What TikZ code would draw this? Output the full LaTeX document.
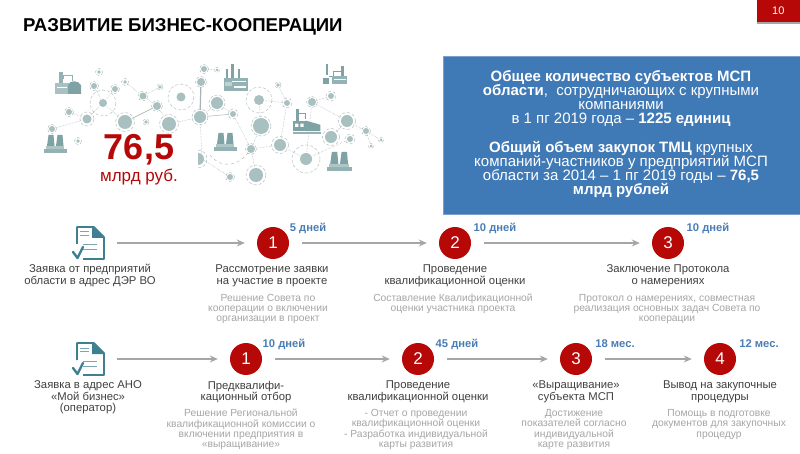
\documentclass[tikz,border=0pt]{standalone}
\usepackage{fontspec}
\setmainfont{Liberation Sans}
\usetikzlibrary{arrows.meta}
\definecolor{redc}{HTML}{B70808}
\definecolor{bluebox}{HTML}{3F79B6}
\definecolor{bluetxt}{HTML}{4A7DB5}
\definecolor{teal}{HTML}{3E8090}
\definecolor{grayt}{HTML}{A6A6A6}
\definecolor{darkt}{HTML}{404040}
\definecolor{netc}{HTML}{A9C0C1}
\definecolor{netl}{HTML}{A8B4B5}
\definecolor{fact}{HTML}{93B2B3}
\definecolor{factd}{HTML}{7FA3A5}
\tikzset{
  numc/.style={circle,fill=redc,text=white,minimum size=32pt,inner sep=0pt,font=\fontsize{17}{17}\selectfont},
  flow/.style={draw=grayt,line width=1.5pt,-{Stealth[length=8pt,width=7pt]},shorten <=13pt,shorten >=12pt},
  lab/.style={align=center,text=darkt,inner sep=0pt,font=\fontsize{11.3}{11.7}\selectfont},
  sub/.style={align=center,text=grayt,inner sep=0pt,font=\fontsize{10.3}{10.3}\selectfont},
  days/.style={text=bluetxt,inner sep=0pt,font=\fontsize{11.2}{12}\bfseries\selectfont},
  blue/.style={align=center,text=white,inner sep=0pt,font=\fontsize{15}{14.3}\selectfont},
  docbox/.style={minimum width=28pt,minimum height=36pt,inner sep=0pt},
  netedge/.style={draw=netl,line width=0.5pt,densely dotted},
}
\newcommand{\docicon}[2]{\begin{scope}[shift={(#1,#2)}]
  \draw[teal,line width=1.6pt,line join=round] (0,18) -- (0,1) -- (17,1) -- (27,11) -- (27,33) -- (6,33);
  \fill[teal] (15,0) -- (28,12) -- (15,12) -- cycle;
  \draw[teal!70,line width=1pt] (3,6) -- (12,6) (3,9.5) -- (12,9.5) (6,19) -- (20,19) (6,24) -- (20,24);
  \draw[teal,line width=2.4pt,line cap=round,line join=round] (-4,26) -- (0.5,32) -- (6,21);
\end{scope}}
\newcommand{\towers}[3]{\begin{scope}[shift={(#1,#2)},scale=#3]
  \fill[factd] (3,11) -- (4.5,0) -- (9.5,0) -- (10.5,11) -- cycle;
  \fill[factd] (12,11) -- (13.5,0) -- (18.5,0) -- (19.5,11) -- cycle;
  \fill[fact!75] (2,11) rectangle (20,14);
  \fill[fact] (0,14) rectangle (23,18);
\end{scope}}
\newcommand{\factoryb}[3]{\begin{scope}[shift={(#1,#2)},scale=#3]
  \fill[factd] (8,0) rectangle (11,14);
  \fill[factd] (3,5) rectangle (5,14);
  \fill[factd] (15,5) rectangle (17,14);
  \fill[fact] (1,14) rectangle (25,27);
  \fill[white] (9,17) rectangle (23,18);
  \fill[fact!60] (2,18) rectangle (9,22);
  \fill[white] (11,22) rectangle (23,24);
\end{scope}}
\newcommand{\factoryc}[3]{\begin{scope}[shift={(#1,#2)},scale=#3]
  \fill[factd] (3,0) rectangle (6,12);
  \draw[factd,line width=0.9pt] (6,4) -- (12,4) -- (12,10);
  \fill[factd] (0,11) rectangle (12,21);
  \fill[factd] (12,11) -- (26,15) -- (26,21) -- (12,21) -- cycle;
  \fill[white] (2,14) rectangle (5,17) (7,14) rectangle (10,17);
  \fill[fact] (0,22) rectangle (27,24);
\end{scope}}
\newcommand{\refinery}[3]{\begin{scope}[shift={(#1,#2)},scale=#3]
  \fill[fact] (4,0) rectangle (8,12);
  \draw[fact,line width=0.9pt] (8,7) -- (8,3) -- (17,3) -- (17,9);
  \fill[fact!80] (0,11) rectangle (14,22);
  \fill[factd] (13,22) -- (13,13) .. controls (15,8) and (23,8) .. (26,13) -- (26,22) -- cycle;
  \fill[white] (2,15) rectangle (12,16.2);
\end{scope}}
\newcommand{\refineryb}[3]{\begin{scope}[shift={(#1,#2)},scale=#3]
  \fill[factd] (3,0) rectangle (5,11);
  \fill[factd] (0,14) rectangle (6,20);
  \draw[factd,line width=0.9pt] (6,12) -- (10,12) -- (10,7) -- (20,7);
  \fill[factd] (18,2) rectangle (21,12);
  \fill[fact] (9,12) rectangle (24,20);
  \fill[white] (11,15) rectangle (23,16);
\end{scope}}
\begin{document}
\begin{tikzpicture}[x=1pt,y=-1pt]
\useasboundingbox (0,0) rectangle (800,454);
\fill[white] (0,0) rectangle (800,454);
% network illustration
\foreach \n/\x/\y in {a/52/129,b/69/112,c/78/141,d/87/119,e/94/86,f/99/72,g/115/89,h/103/103,i/125/82,j/125/122,k/146/122,l/143/96,m/160/87,n/157/106,o/169/124,p/181/97,q/201/82,r/204/69,s/217/70,t/200/117,u/217/103,v/233/114,w/259/100,x/261/126,y/278/85,z/287/103,aa/280/145,ab/251/149,ac/256/175,ad/230/177,ae/202/159,af/306/159,ag/312/102,ah/331/96,ai/347/121,aj/331/137,ak/350/139,al/366/131,am/381/140,an/371/146}{
  \coordinate (\n) at (\x,\y);
}
\foreach \p/\q in {a/d,b/d,d/h,e/h,g/h,h/j,j/n,l/n,l/i,l/m,n/o,t/u,u/v,v/ab,ab/x,x/w,w/z,z/y,z/aa,aa/ab,aa/af,af/ak,ag/ah,ag/ai,ai/al,al/am,al/an,ai/aj,ab/ac,ad/ae,ae/t,ag/af,r/s,o/t}{
  \draw[netedge] (\p) -- (\q);
}
\draw[netl,line width=0.4pt,dashed] (210,155) .. controls (222,170) and (240,166) .. (251,149);
\draw[netl,line width=1.2pt] (q) -- (t);
\draw[netl,line width=0.5pt] (t) -- (v) (n) -- (j);
\foreach \n/\r/\q in {a/3/4.5,b/3/4.5,c/1.8/3.5,d/4.5/7,e/3/4.5,f/1.8/3.5,g/3/4.5,h/4/13,i/1.8/3.5,j/7/9.5,k/1.8/3,l/3.5/5,m/1.8/3,n/4/5.5,o/7/9.5,p/4.5/13,q/4/5.5,r/3/4.5,s/1.5/2.5,t/6/8,u/6/8,v/3/5,w/5/13,x/8/10,y/1.8/3,z/3/5,aa/6/8.5,ab/4/5.5,ac/7/10,ad/3/4.5,af/6/14,ag/4/5.5,ah/3/5,ai/6/8.5,aj/6/8.5,ak/3/5,al/3/4.5,am/1.5/2.5,an/1.5/2.5}{
  \fill[white] (\n) circle (\r+1);
  \fill[netc] (\n) circle (\r);
  \draw[netl,line width=0.4pt,densely dashed] (\n) circle (\q);
}
\fill[netc] (198,153) arc (-90:90:6) -- cycle;
\draw[netl,line width=0.4pt,densely dashed] (198,150) arc (-90:90:9);
\refinery{55}{72}{1}
\factoryb{223}{64}{1}
\refineryb{323}{64}{1}
\factoryc{293}{109}{1.05}
\towers{44}{135}{1}
\towers{214}{133}{1}
\towers{327}{152}{1.08}
% title and tag
\node[anchor=west,inner sep=0pt,font=\fontsize{18.6}{20}\bfseries\selectfont,text=black] (title) at (23,27) {РАЗВИТИЕ БИЗНЕС-КООПЕРАЦИИ};
\fill[black!35] (757,2) rectangle (800,24);
\node[fill=redc,text=white,anchor=north east,minimum width=43pt,minimum height=22pt,inner sep=0pt,font=\fontsize{11}{12}\selectfont] (tag) at (800,0) {10};
\node[inner sep=0pt,text=redc,font=\fontsize{36}{40}\bfseries\selectfont] (amount) at (139,150) {76,5};
\node[inner sep=0pt,text=redc,font=\fontsize{17}{18}\selectfont] (amountu) at (139,177) {млрд руб.};
% blue box
\node[fill=bluebox,draw=bluebox!70!white,line width=0.5pt,anchor=north west,minimum width=358pt,minimum height=158pt,inner sep=0pt] (box) at (443,56) {};
\node[blue] (bluea) at (621,98.5) {\textbf{Общее количество субъектов МСП}\\\textbf{области},\ \ сотрудничающих с крупными\\компаниями\\в 1 пг 2019 года – \textbf{1225 единиц}};
\node[blue] (blueb) at (621,169.5) {\textbf{Общий объем закупок ТМЦ} крупных\\компаний-участников у предприятий МСП\\области за 2014 – 1 пг 2019 годы – \textbf{76,5}\\\textbf{млрд рублей}};
% row 1
\docicon{77}{226}
\node[docbox] (doca) at (90,243) {};
\node[numc] (r1) at (273,243) {1};
\node[numc] (r2) at (455,243) {2};
\node[numc] (r3) at (668,243) {3};
\draw[flow] (doca) -- (r1);
\draw[flow] (r1) -- (r2);
\draw[flow] (r2) -- (r3);
\node[days] (d1) at (308,228) {5 дней};
\node[days] (d2) at (495,228) {10 дней};
\node[days] (d3) at (708,228) {10 дней};
\node[lab] (la0) at (90,275.8) {Заявка от предприятий\\области в адрес ДЭР ВО};
\node[lab] (la1) at (272,275.8) {Рассмотрение заявки\\на участие в проекте};
\node[lab] (la2) at (455,275.8) {Проведение\\квалификационной оценки};
\node[lab] (la3) at (668,275.8) {Заключение Протокола\\о намерениях};
\node[sub] (sa1) at (268,309) {Решение Совета по\\кооперации о включении\\организации в проект};
\node[sub] (sa2) at (453,304) {Составление Квалификационной\\оценки участника проекта};
\node[sub] (sa3) at (667,309) {Протокол о намерениях, совместная\\реализация основных задач Совета по\\кооперации};
% row 2
\docicon{77}{342}
\node[docbox] (docb) at (90,359) {};
\node[numc] (q1) at (246,359) {1};
\node[numc] (q2) at (418,359) {2};
\node[numc] (q3) at (576,359) {3};
\node[numc] (q4) at (720,359) {4};
\draw[flow] (docb) -- (q1);
\draw[flow] (q1) -- (q2);
\draw[flow] (q2) -- (q3);
\draw[flow] (q3) -- (q4);
\node[days] (e1) at (284,344) {10 дней};
\node[days] (e2) at (457,344) {45 дней};
\node[days] (e3) at (615,344) {18 мес.};
\node[days] (e4) at (759,344) {12 мес.};
\node[lab] (lb0) at (88,397.5) {Заявка в адрес АНО\\«Мой бизнес»\\(оператор)};
\node[lab] (lb1) at (246,392) {Предквалифи-\\кационный отбор};
\node[lab] (lb2) at (418,392) {Проведение\\квалификационной оценки};
\node[lab] (lb3) at (576,392) {«Выращивание»\\субъекта МСП};
\node[lab] (lb4) at (720,392) {Вывод на закупочные\\процедуры};
\node[sub] (sb1) at (241,429.5) {Решение Региональной\\квалификационной комиссии о\\включении предприятия в\\«выращивание»};
\node[sub] (sb2) at (416,429.5) {- Отчет о проведении\\квалификационной оценки\\- Разработка индивидуальной\\карты развития};
\node[sub] (sb3) at (574,429.5) {Достижение\\показателей согласно\\индивидуальной\\карте развития};
\node[sub] (sb4) at (719,424.5) {Помощь в подготовке\\документов для закупочных\\процедур};
\end{tikzpicture}
\end{document}
